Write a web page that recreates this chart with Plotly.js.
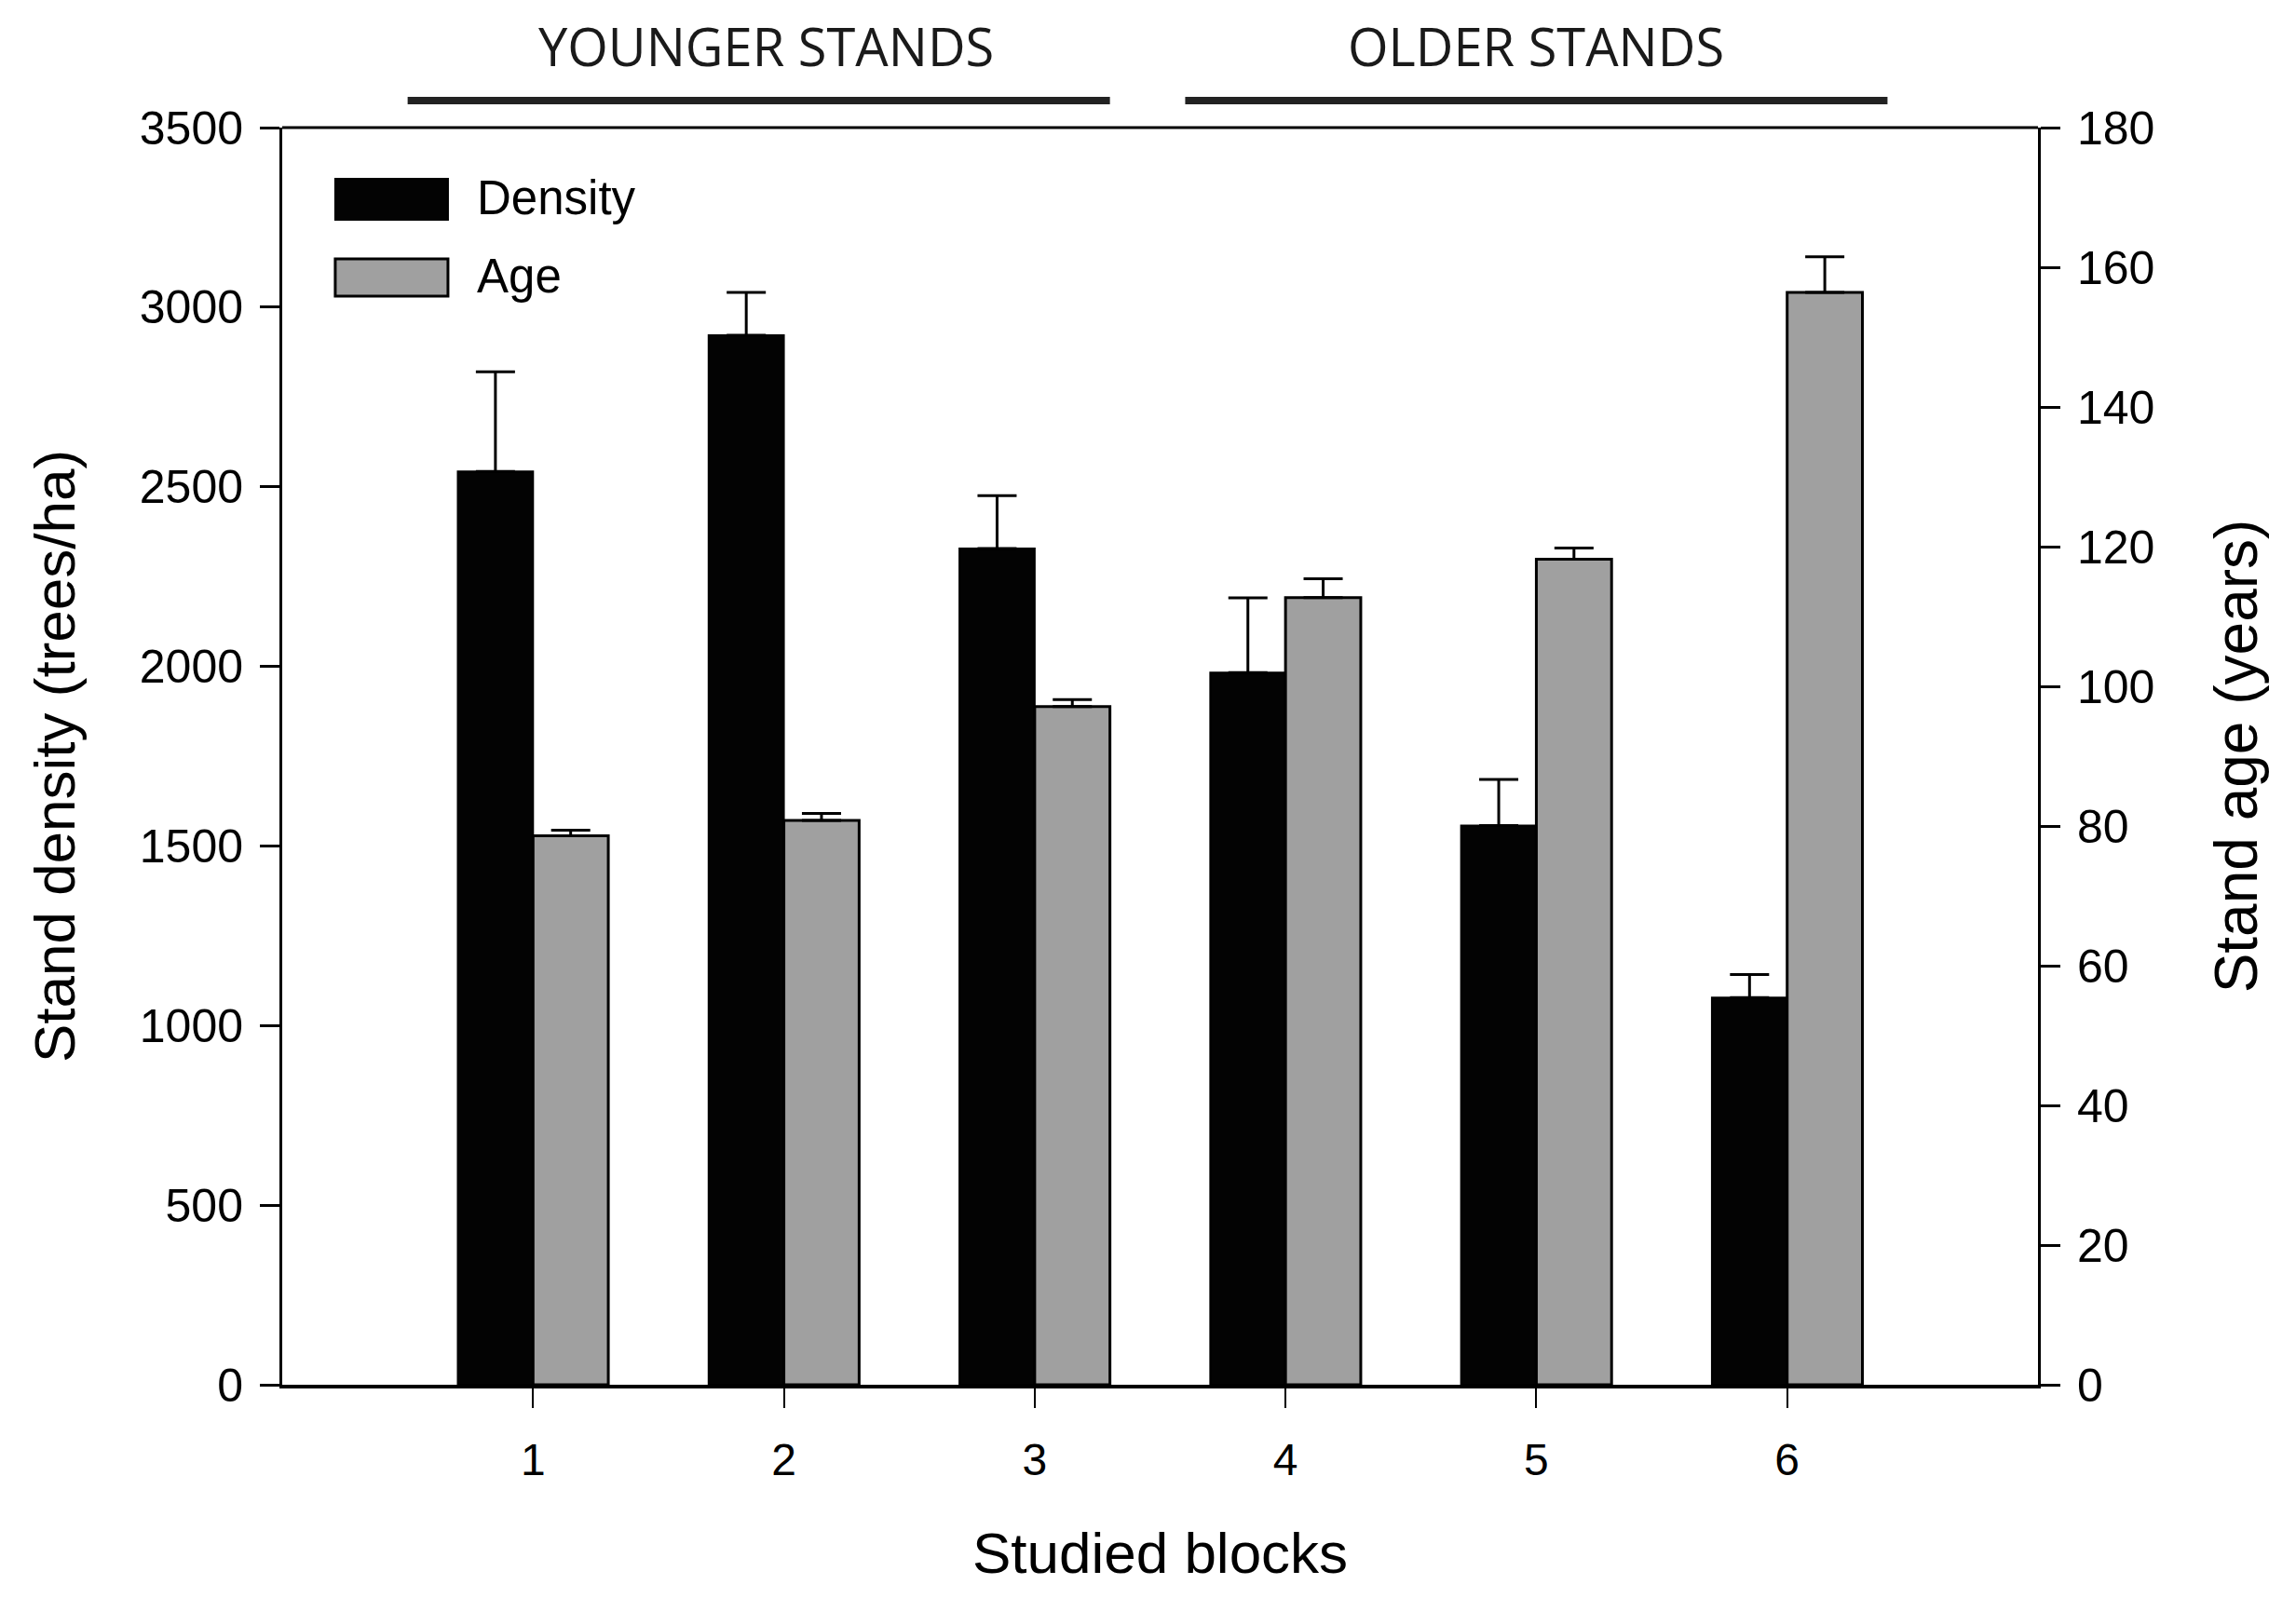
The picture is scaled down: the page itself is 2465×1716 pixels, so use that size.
<!DOCTYPE html>
<html>
<head>
<meta charset="utf-8">
<script src="https://cdn.plot.ly/plotly-3.0.1.min.js"></script>
<style>
  html, body { margin: 0; padding: 0; background: #fff; }
  #chart { width: 2465px; height: 1716px; }
</style>
</head>
<body>
<div id="chart"></div>
<script>
// Studied blocks
var blocks = [1, 2, 3, 4, 5, 6];

// Stand density (trees/ha) and its error
var density = [2543, 2922, 2328, 1983, 1557, 1078];
var densityErr = [277, 119, 147, 208, 128, 64];

// Stand age (years) and its error
var age = [78.6, 80.8, 97.1, 112.7, 118.2, 156.4];
var ageErr = [0.8, 1.0, 1.0, 2.7, 1.6, 5.1];
var noErr = [0, 0, 0, 0, 0, 0];

var densityTicks = [0, 500, 1000, 1500, 2000, 2500, 3000, 3500];
var ageTicks = [0, 20, 40, 60, 80, 100, 120, 140, 160, 180];

var groupNames = ["YOUNGER STANDS", "OLDER STANDS"];
var groupStart = [0.5, 3.6];
var groupEnd = [3.3, 6.4];

var font = "Liberation Sans, Arial, sans-serif";

var traceDensity = {
  x: blocks,
  y: density,
  type: 'bar',
  name: 'Density',
  width: 0.3,
  offset: -0.3,
  marker: { color: '#030303', line: { color: '#000', width: 2 } },
  error_y: {
    type: 'data', symmetric: false, array: densityErr, arrayminus: noErr,
    color: '#000', thickness: 3, width: 21
  },
  showlegend: false
};

var traceAge = {
  x: blocks,
  y: age,
  type: 'bar',
  name: 'Age',
  yaxis: 'y2',
  width: 0.3,
  offset: 0,
  marker: { color: '#a0a0a0', line: { color: '#000', width: 3 } },
  error_y: {
    type: 'data', symmetric: false, array: ageErr, arrayminus: noErr,
    color: '#000', thickness: 3, width: 21
  },
  showlegend: false
};

var shapes = [
  // top frame line
  { type: 'line', xref: 'paper', yref: 'paper', x0: 0, x1: 1, y0: 1, y1: 1,
    line: { color: '#000', width: 3 } },
  // legend swatches
  { type: 'rect', xref: 'paper', yref: 'paper', x0: 0.0302, x1: 0.0944, y0: 0.9267, y1: 0.9593,
    fillcolor: '#030303', line: { color: '#000', width: 2 } },
  { type: 'rect', xref: 'paper', yref: 'paper', x0: 0.0302, x1: 0.0944, y0: 0.866, y1: 0.8956,
    fillcolor: '#a0a0a0', line: { color: '#000', width: 3 } }
];

var annotations = [
  { xref: 'paper', yref: 'paper', x: 0.110, y: 0.9444, xanchor: 'left', yanchor: 'middle',
    text: 'Density', showarrow: false, font: { family: font, size: 51, color: '#000' } },
  { xref: 'paper', yref: 'paper', x: 0.110, y: 0.8815, xanchor: 'left', yanchor: 'middle',
    text: 'Age', showarrow: false, font: { family: font, size: 51, color: '#000' } }
];

for (var g = 0; g < groupNames.length; g++) {
  shapes.push({
    type: 'line', xref: 'x', yref: 'paper', x0: groupStart[g], x1: groupEnd[g],
    y0: 1.0215, y1: 1.0215, line: { color: '#222', width: 8 }
  });
  annotations.push({
    xref: 'x', yref: 'paper', x: (groupStart[g] + groupEnd[g]) / 2 + (g === 0 ? 0.03 : 0),
    y: 1.065, xanchor: 'center', yanchor: 'middle', text: groupNames[g], showarrow: false,
    font: { family: 'Open Sans, sans-serif', size: 56, color: '#1a1a1a' }
  });
}

var layout = {
  width: 2465,
  height: 1716,
  margin: { l: 303, r: 277, t: 137, b: 229 },
  paper_bgcolor: '#fff',
  plot_bgcolor: '#fff',
  barmode: 'overlay',
  font: { family: font, color: '#000' },
  xaxis: {
    range: [0, 7],
    tickvals: blocks,
    ticktext: blocks.map(String),
    ticks: 'outside', ticklen: 21, tickwidth: 2, tickcolor: '#000',
    showline: true, linecolor: '#000', linewidth: 4,
    showgrid: false, zeroline: false,
    tickfont: { family: font, size: 48 },
    ticklabelstandoff: 14,
    title: { text: 'Studied blocks', font: { family: font, size: 62 }, standoff: 54 }
  },
  yaxis: {
    range: [0, 3500],
    tickvals: densityTicks,
    ticks: 'outside', ticklen: 21, tickwidth: 3, tickcolor: '#000',
    showline: true, linecolor: '#000', linewidth: 3,
    showgrid: false, zeroline: false,
    tickfont: { family: font, size: 50 },
    ticklabelstandoff: 8,
    title: { text: 'Stand density (trees/ha)', font: { family: font, size: 62 }, standoff: 50 }
  },
  yaxis2: {
    range: [0, 180],
    tickvals: ageTicks,
    overlaying: 'y',
    side: 'right',
    ticks: 'outside', ticklen: 21, tickwidth: 3, tickcolor: '#000',
    showline: true, linecolor: '#000', linewidth: 3,
    showgrid: false, zeroline: false,
    tickfont: { family: font, size: 50 },
    ticklabelstandoff: 8,
    title: { text: 'Stand age (years)', font: { family: font, size: 64 }, standoff: 66 }
  },
  shapes: shapes,
  annotations: annotations
};

Plotly.newPlot('chart', [traceDensity, traceAge], layout, { staticPlot: true, displayModeBar: false });
</script>
</body>
</html>
